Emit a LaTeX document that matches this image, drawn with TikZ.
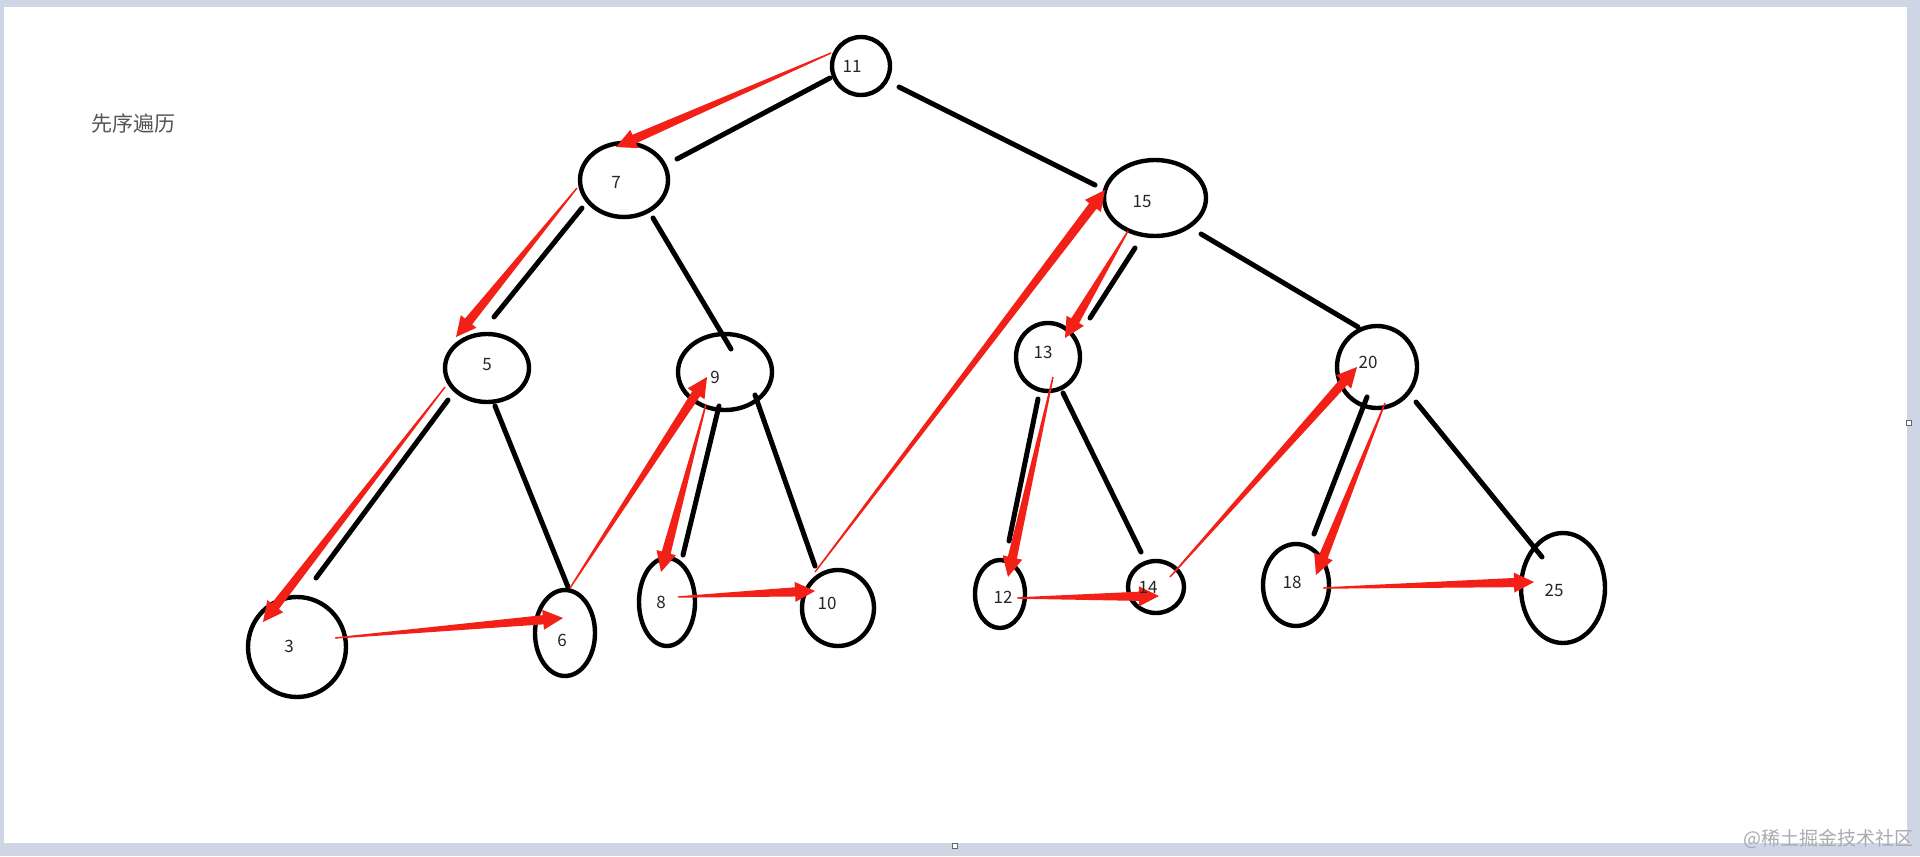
\documentclass[tikz,border=0pt]{standalone}
\usepackage{fontspec}
\setmainfont{Noto Sans CJK SC}
\usetikzlibrary{shapes.geometric,calc}
\definecolor{framec}{RGB}{206,213,229}
\definecolor{arrred}{RGB}{242,32,22}
\definecolor{titlegray}{RGB}{85,85,85}
\definecolor{wmgray}{RGB}{170,170,175}
\newcommand\taparrow[2]{%
  \coordinate (tmpb) at ($(#2)!10pt!(#1)$);
  \fill[arrred] ($(#1)!0.35pt!90:(#2)$) -- ($(tmpb)!2.3pt!90:(#2)$) -- ($(tmpb)!5pt!90:(#2)$) -- (#2)
    -- ($(tmpb)!5pt!-90:(#2)$) -- ($(tmpb)!2.3pt!-90:(#2)$) -- ($(#1)!0.35pt!-90:(#2)$) -- cycle;}
\tikzset{
  nd/.style 2 args={ellipse, draw=black, line width=2.2pt, inner sep=0pt, minimum width=#1pt, minimum height=#2pt},
  lbl/.style={font=\fontsize{8.5pt}{10pt}\selectfont, text=black!85, inner sep=0pt},
  edge/.style={line width=2.5pt, line cap=round, draw=black},
  handle/.style={draw=black!60, fill=white, line width=0.4pt, minimum size=2.5pt, inner sep=0pt}
}
\begin{document}
\begin{tikzpicture}[x=0.5pt, y=-0.5pt]
\useasboundingbox (0,0) rectangle (1920,856);
\fill[framec] (0,0) rectangle (1920,856);
\fill[white] (4,7) rectangle (1907,843);

% title
\node[font=\fontsize{10.5pt}{12pt}\selectfont, text=titlegray, anchor=west, inner sep=0pt] (title) at (91,124) {先序遍历};

% nodes
\node[nd={29}{29}] (n11) at (861,66) {};
\node[nd={44}{37}] (n7) at (624,180) {};
\node[nd={51}{38}] (n15) at (1155,198) {};
\node[nd={42}{34}] (n5) at (487,368) {};
\node[nd={47}{38}] (n9) at (725,372) {};
\node[nd={32}{34}] (n13) at (1048,357) {};
\node[nd={40}{41}] (n20) at (1377,367) {};
\node[nd={49}{50}] (n3) at (297,647) {};
\node[nd={30}{43}] (n6) at (565,633) {};
\node[nd={28}{44}] (n8) at (667,602) {};
\node[nd={36}{38}] (n10) at (838,608) {};
\node[nd={25}{34}] (n12) at (1000,594) {};
\node[nd={28}{26}] (n14) at (1156,587) {};
\node[nd={33}{41}] (n18) at (1296,585) {};
\node[nd={42}{55}] (n25) at (1563,588) {};

% tree edges (free ends)
\coordinate (e1a) at (830,78);   \coordinate (e1b) at (677,159);
\coordinate (e2a) at (899,87);   \coordinate (e2b) at (1095,185);
\coordinate (e3a) at (582,208);  \coordinate (e3b) at (494,317);
\coordinate (e4a) at (653,218);  \coordinate (e4b) at (731,349);
\coordinate (e5a) at (448,400);  \coordinate (e5b) at (316,578);
\coordinate (e6a) at (495,406);  \coordinate (e6b) at (568,587);
\coordinate (e7a) at (719,406);  \coordinate (e7b) at (683,555);
\coordinate (e8a) at (755,395);  \coordinate (e8b) at (815,566);
\coordinate (e9a) at (1135,248); \coordinate (e9b) at (1090,318);
\coordinate (e10a) at (1201,234); \coordinate (e10b) at (1358,327);
\coordinate (e11a) at (1038,399); \coordinate (e11b) at (1009,541);
\coordinate (e12a) at (1063,393); \coordinate (e12b) at (1141,552);
\coordinate (e13a) at (1367,397); \coordinate (e13b) at (1314,534);
\coordinate (e14a) at (1416,402); \coordinate (e14b) at (1542,557);
\foreach \i in {1,...,14} { \draw[edge] (e\i a) -- (e\i b); }

% traversal arrows
\coordinate (a1s) at (831,53);   \coordinate (a1t) at (616,147);
\coordinate (a2s) at (577,188);  \coordinate (a2t) at (456,337);
\coordinate (a3s) at (445,387);  \coordinate (a3t) at (263,622);
\coordinate (a4s) at (335,638);  \coordinate (a4t) at (563,618);
\coordinate (a5s) at (570,588);  \coordinate (a5t) at (707,377);
\coordinate (a6s) at (706,404);  \coordinate (a6t) at (661,572);
\coordinate (a7s) at (678,597);  \coordinate (a7t) at (815,591);
\coordinate (a8s) at (815,572);  \coordinate (a8t) at (1105,190);
\coordinate (a9s) at (1128,231); \coordinate (a9t) at (1065,338);
\coordinate (a10s) at (1053,377); \coordinate (a10t) at (1008,577);
\coordinate (a11s) at (1017,598); \coordinate (a11t) at (1159,596);
\coordinate (a12s) at (1170,577); \coordinate (a12t) at (1357,367);
\coordinate (a13s) at (1385,403); \coordinate (a13t) at (1316,575);
\coordinate (a14s) at (1323,588); \coordinate (a14t) at (1534,582);
\foreach \i in {1,...,14} { \taparrow{a\i s}{a\i t} }

% labels
\node[lbl] (t11) at (852,66) {11};
\node[lbl] (t7) at (616,182) {7};
\node[lbl] (t5) at (487,365) {5};
\node[lbl] (t9) at (715,377) {9};
\node[lbl] (t15) at (1142,202) {15};
\node[lbl] (t13) at (1043,352) {13};
\node[lbl] (t20) at (1368,362) {20};
\node[lbl] (t3) at (289,646) {3};
\node[lbl] (t6) at (562,640) {6};
\node[lbl] (t8) at (661,602) {8};
\node[lbl] (t10) at (827,603) {10};
\node[lbl] (t12) at (1003,597) {12};
\node[lbl] (t14) at (1148,587) {14};
\node[lbl] (t18) at (1292,582) {18};
\node[lbl] (t25) at (1554,590) {25};

% window handles and watermark
\node[handle] (h1) at (1909,423) {};
\node[handle] (h2) at (955,846) {};
\node[font=\fontsize{9.5pt}{11pt}\selectfont, text=wmgray, anchor=east, inner sep=0pt] (wm) at (1914,839) {@稀土掘金技术社区};
\end{tikzpicture}
\end{document}
